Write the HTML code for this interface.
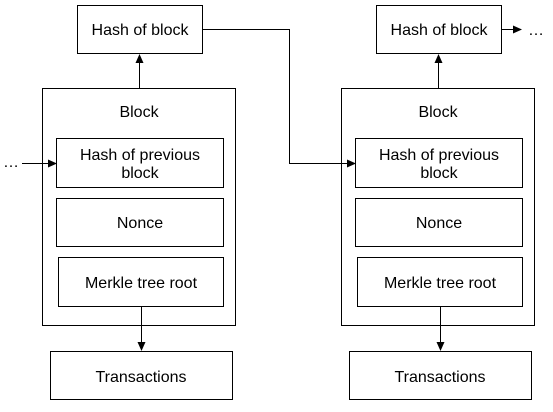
<!DOCTYPE html>
<html><head><style>body{margin:0;background:#fff}</style></head><body>
<svg width="553" height="407" xmlns="http://www.w3.org/2000/svg" font-family="Liberation Sans, Arial, sans-serif" font-size="16">
<defs><marker id="a" markerWidth="10" markerHeight="10" refX="8" refY="4.5" orient="auto" markerUnits="userSpaceOnUse"><path d="M0,0.5 L9,4.5 L0,8.5 Z" fill="#000"/></marker></defs>
<g fill="#fff" stroke="#000" stroke-width="1">
<rect x="77.5" y="5.5" width="125" height="48"/>
<rect x="42.5" y="88.5" width="193" height="237"/>
<rect x="56.5" y="138.5" width="167" height="49"/>
<rect x="56.5" y="198.5" width="167" height="48"/>
<rect x="58.5" y="257.5" width="165" height="49"/>
<rect x="50.5" y="351.5" width="182" height="48"/>
<rect x="376.5" y="5.5" width="125" height="48"/>
<rect x="341.5" y="88.5" width="193" height="237"/>
<rect x="355.5" y="138.5" width="167" height="49"/>
<rect x="355.5" y="198.5" width="167" height="48"/>
<rect x="357.5" y="257.5" width="165" height="49"/>
<rect x="349.5" y="351.5" width="182" height="48"/>
</g>
<g stroke="#000" fill="none" marker-end="url(#a)">
<path d="M139.5 88 V55"/>
<path d="M141.5 307 V350"/>
<path d="M22 163.5 H56"/>
<path d="M438.5 88 V55"/>
<path d="M440.5 307 V350"/>
<path d="M202 29.5 H289.5 V163.5 H355"/>
<path d="M501 29.5 H521"/>
</g>
<g text-anchor="middle" fill="#000">
<text x="140" y="35">Hash of block</text>
<text x="139" y="117">Block</text>
<text x="140" y="160">Hash of previous</text>
<text x="140" y="178">block</text>
<text x="140" y="228">Nonce</text>
<text x="141" y="288">Merkle tree root</text>
<text x="141" y="382">Transactions</text>
<text x="439" y="35">Hash of block</text>
<text x="438" y="117">Block</text>
<text x="439" y="160">Hash of previous</text>
<text x="439" y="178">block</text>
<text x="439" y="228">Nonce</text>
<text x="440" y="288">Merkle tree root</text>
<text x="440" y="382">Transactions</text>
<text x="11" y="167">…</text>
<text x="536" y="35">…</text>
</g>
</svg>
</body></html>
